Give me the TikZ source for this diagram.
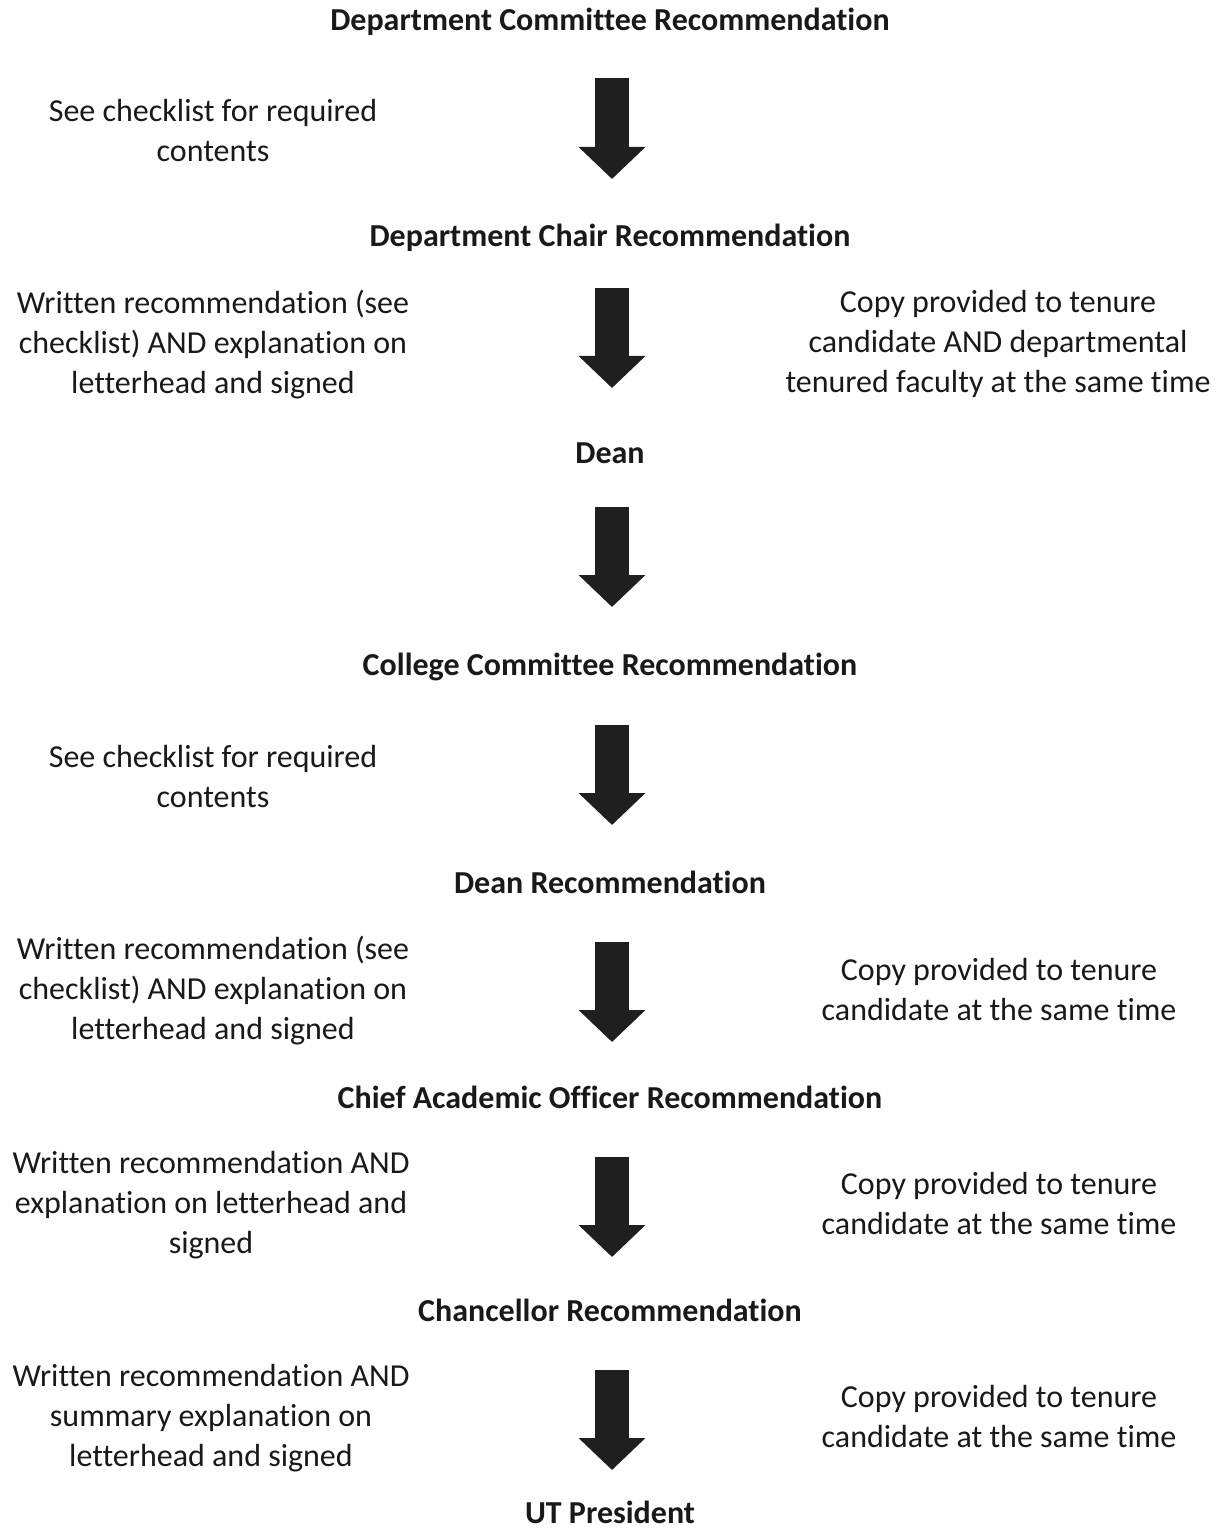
\documentclass[tikz,border=0pt]{standalone}
\usepackage{fontspec}
\setmainfont{Carlito}[Ligatures={NoCommon}]
\usetikzlibrary{arrows.meta}

\begin{document}
\begin{tikzpicture}[x=0.5pt, y=-0.5pt, line width=.8pt,
	stage/.style={font=\fontsize{16}{20}\selectfont\bfseries, inner sep=0pt, text=black!90},
	note/.style={font=\fontsize{16}{20}\selectfont, align=center, inner sep=0pt, text=black!90},
	flow/.style={line width=17pt, -{Triangle[width=32.5pt,length=16pt]}, black!88}]
	\useasboundingbox (0,0) rectangle (1221,1534);
	% stages
	\node[stage] (dcr) at (610,22) {Department Committee Recommendation};
	\node[stage] (dchr) at (610,238) {Department Chair Recommendation};
	\node[stage] (dean) at (610,453) {Dean};
	\node[stage] (ccr) at (610,667) {College Committee Recommendation};
	\node[stage] (deanr) at (610,882) {Dean Recommendation};
	\node[stage] (caor) at (610,1097) {Chief Academic Officer Recommendation};
	\node[stage] (chr) at (610,1310) {Chancellor Recommendation};
	\node[stage] (utp) at (610,1512) {UT President};
	% notes
	\node[note] (nl1) at (213,131) {See checklist for required\\contents};
	\node[note] (nl2) at (213,345) {Written recommendation (see\\checklist) AND explanation on\\letterhead and signed};
	\node[note] (nr2) at (998,344) {Copy provided to tenure\\candidate AND departmental\\tenured faculty at the same time};
	\node[note] (nl4) at (213,777) {See checklist for required\\contents};
	\node[note] (nl5) at (213,991) {Written recommendation (see\\checklist) AND explanation on\\letterhead and signed};
	\node[note] (nr5) at (999,989) {Copy provided to tenure\\candidate at the same time};
	\node[note] (nl6) at (211,1205) {Written recommendation AND\\explanation on letterhead and\\signed};
	\node[note] (nr6) at (999,1203) {Copy provided to tenure\\candidate at the same time};
	\node[note] (nl7) at (211,1418) {Written recommendation AND\\summary explanation on\\letterhead and signed};
	\node[note] (nr7) at (999,1416) {Copy provided to tenure\\candidate at the same time};
	% arrows
	\foreach \a/\b/\s/\e in {dcr/dchr/28/29.5, dchr/dean/25/32.5, dean/ccr/27/30,
		ccr/deanr/29/28.5, deanr/caor/30/27.5, caor/chr/30/26.5, chr/utp/30/21}
		\draw[flow, shorten <=\s pt, shorten >=\e pt] ([xshift=1pt]\a.center) -- ([xshift=1pt]\b.center);
\end{tikzpicture}
\end{document}
